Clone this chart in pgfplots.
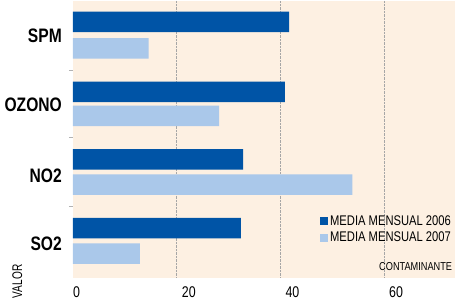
\documentclass[border=0pt]{standalone}
\usepackage{fontspec}
\setmainfont[FakeStretch=0.8]{Liberation Sans}
\newfontfamily\condfont[FakeStretch=0.72]{Liberation Sans}
\usepackage{pgfplots}
\pgfplotsset{compat=1.18}
\definecolor{darkblue}{HTML}{0054A6}
\definecolor{lightblue}{HTML}{AAC8EA}
\definecolor{bgpeach}{HTML}{FDF0E2}
\begin{document}
\begin{tikzpicture}[x=1pt,y=1pt]
\path[use as bounding box] (-73pt,-21pt) rectangle (382pt,278pt);
\begin{axis}[
  at={(0pt,0pt)}, anchor=south west,
  scale only axis,
  width=382pt, height=277pt,
  xmin=0, xmax=73.7,
  ymin=0, ymax=277,
  y dir=reverse,
  axis background/.style={fill=bgpeach},
  axis line style={draw=none},
  xtick={0,20,40,60},
  xticklabels={\hspace*{-5pt}0,20,40,60},
  xticklabel style={anchor=north west, inner sep=0pt, xshift=5pt, yshift=-8pt, font=\fontsize{15.5}{17}\selectfont},
  major tick length=0pt,
  extra x ticks={20,40,60},
  extra x tick labels={},
  extra x tick style={grid=major, major grid style={gray!70, densely dotted, line width=0.8pt}},
  ytick={35,104,175,243},
  yticklabels={SPM,OZONO,NO2,SO2},
  yticklabel style={font=\fontsize{19.5}{21}\selectfont\bfseries, inner sep=0pt, xshift=-11pt},
  extra y ticks={69,136.5,205},
  extra y tick labels={},
  extra y tick style={major tick length=4pt, tick align=outside, tick style={gray!60, line width=0.6pt}},
  xbar, bar shift=0pt, bar width=20.5,
  legend style={draw=none, fill=none, at={(0.995,0.175)}, anchor=east, inner sep=0pt,
    font=\fontsize{14}{15}\selectfont, row sep=1pt, cells={anchor=west}},
  legend image code/.code={\fill[#1] (0pt,-4pt) rectangle (8pt,4pt);},
  clip=false,
]
\addplot[fill=darkblue, draw=none] coordinates {(41.7,21) (40.9,91) (32.8,158.5) (32.4,227)};
\addlegendentry{MEDIA MENSUAL 2006}
\addplot[fill=lightblue, draw=none] coordinates {(14.6,47.5) (28.2,115) (53.9,183.5) (12.9,252.5)};
\addlegendentry{MEDIA MENSUAL 2007}
\node[anchor=south east, inner sep=0pt, font=\fontsize{11.5}{12}\selectfont] at (rel axis cs:0.993,0.025) {CONTAMINANTE};
\node[rotate=90, inner sep=0pt, font=\condfont\fontsize{14}{15}\selectfont] at (rel axis cs:-0.146,-0.012) {VALOR};
\end{axis}
\end{tikzpicture}
\end{document}
